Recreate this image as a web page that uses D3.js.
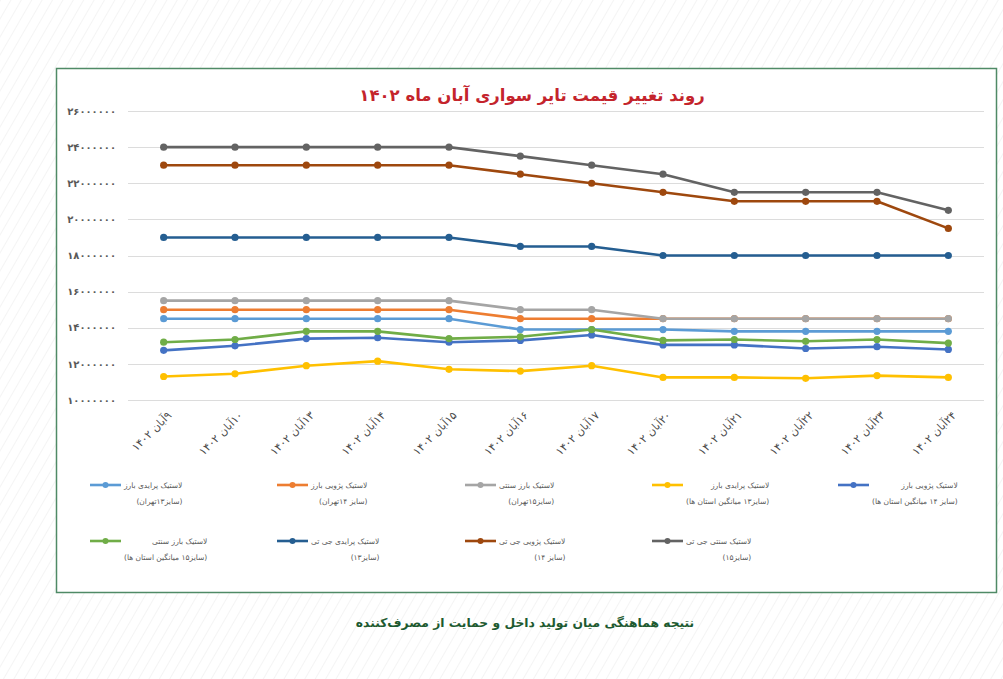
<!DOCTYPE html>
<html>
<head>
<meta charset="utf-8">
<script src="https://cdn.jsdelivr.net/npm/d3@7"></script>
<style>
  html, body { margin: 0; padding: 0; background: #fff; }
  svg { display: block; font-family: "DejaVu Sans", sans-serif; }
</style>
</head>
<body>
<svg id="chart" width="1003" height="679"></svg>
<script>
// ---------- DATA ----------
const titleText = "روند تغییر قیمت تایر سواری آبان ماه ۱۴۰۲";
const captionText = "نتیجه هماهنگی میان تولید داخل و حمایت از مصرف‌کننده";
const categories = ["۹آبان ۱۴۰۲","۱۰آبان ۱۴۰۲","۱۳آبان ۱۴۰۲","۱۴آبان ۱۴۰۲","۱۵آبان ۱۴۰۲","۱۶آبان ۱۴۰۲",
                    "۱۷آبان ۱۴۰۲","۲۰آبان ۱۴۰۲","۲۱آبان ۱۴۰۲","۲۲آبان ۱۴۰۲","۲۳آبان ۱۴۰۲","۲۴آبان ۱۴۰۲"];
const yTicks = [10000000,12000000,14000000,16000000,18000000,20000000,22000000,24000000,26000000];

const seriesNames = [
  ["لاستیک پرایدی بارز", "(سایز۱۳تهران)"],
  ["لاستیک پژویی بارز", "(سایز ۱۴تهران)"],
  ["لاستیک بارز سنتی", "(سایز۱۵تهران)"],
  ["لاستیک پرایدی بارز", "(سایز۱۳ میانگین استان ها)"],
  ["لاستیک پژویی بارز", "(سایز ۱۴ میانگین استان ها)"],
  ["لاستیک بارز سنتی", "(سایز۱۵ میانگین استان ها)"],
  ["لاستیک پرایدی جی تی", "(سایز۱۳)"],
  ["لاستیک پژویی جی تی", "(سایز ۱۴)"],
  ["لاستیک سنتی جی تی", "(سایز۱۵)"]
];
const seriesColors = ["#5b9bd5","#ed7d31","#a5a5a5","#ffc000","#4472c4","#70ad47","#255e91","#9e480e","#636363"];

const prideBarezTehran   = [14500000,14500000,14500000,14500000,14500000,13900000,13900000,13900000,13800000,13800000,13800000,13800000];
const peugeotBarezTehran = [15000000,15000000,15000000,15000000,15000000,14500000,14500000,14500000,14500000,14500000,14500000,14500000];
const sonatiBarezTehran  = [15500000,15500000,15500000,15500000,15500000,15000000,15000000,14500000,14500000,14500000,14500000,14500000];
const prideBarezAvg      = [11300000,11450000,11900000,12150000,11700000,11600000,11900000,11250000,11250000,11200000,11350000,11250000];
const peugeotBarezAvg    = [12750000,13000000,13400000,13450000,13200000,13300000,13600000,13050000,13050000,12850000,12950000,12800000];
const sonatiBarezAvg     = [13200000,13350000,13800000,13800000,13400000,13500000,13900000,13300000,13350000,13250000,13350000,13150000];
const prideGT            = [19000000,19000000,19000000,19000000,19000000,18500000,18500000,18000000,18000000,18000000,18000000,18000000];
const peugeotGT          = [23000000,23000000,23000000,23000000,23000000,22500000,22000000,21500000,21000000,21000000,21000000,19500000];
const sonatiGT           = [24000000,24000000,24000000,24000000,24000000,23500000,23000000,22500000,21500000,21500000,21500000,20500000];

const seriesValues = [prideBarezTehran, peugeotBarezTehran, sonatiBarezTehran, prideBarezAvg,
                      peugeotBarezAvg, sonatiBarezAvg, prideGT, peugeotGT, sonatiGT];

// ---------- HELPERS ----------
const faDigits = "۰۱۲۳۴۵۶۷۸۹";
const toFa = n => String(n).replace(/[0-9]/g, d => faDigits[+d]);
const rtl = s => "\u202B" + s + "\u202C";

// ---------- DRAW ----------
const svg = d3.select("#chart");
const defs = svg.append("defs");
const pat = defs.append("pattern").attr("id","stripes").attr("patternUnits","userSpaceOnUse")
  .attr("width", 9).attr("height", 9).attr("patternTransform","rotate(30)");
pat.append("line").attr("x1",0).attr("y1",0).attr("x2",0).attr("y2",9)
  .attr("stroke","#ececec").attr("stroke-width",1.2);
svg.append("rect").attr("width",1003).attr("height",679).attr("fill","url(#stripes)");

// chart frame
svg.append("rect").attr("x",56.5).attr("y",68.5).attr("width",940).attr("height",524)
  .attr("fill","#fff").attr("stroke","#4f8a66").attr("stroke-width",1.5);

// title
svg.append("text").attr("x",532).attr("y",101).attr("text-anchor","middle")
  .attr("font-size",16.5).attr("font-weight","bold").attr("fill","#c4242c")
  .text(rtl(titleText));

// scales
const x = d3.scalePoint().domain(categories).range([128,984]).padding(0.5);
const y = d3.scaleLinear().domain([10000000,26000000]).range([400,111]);

// gridlines
svg.append("g").selectAll("line").data(yTicks).join("line")
  .attr("x1",128).attr("x2",984)
  .attr("y1",d=>Math.round(y(d))+0.5).attr("y2",d=>Math.round(y(d))+0.5)
  .attr("stroke","#dcdcdc").attr("stroke-width",1);

// y axis
const yAxis = svg.append("g").attr("transform","translate(128,0)")
  .call(d3.axisLeft(y).tickValues(yTicks).tickSize(0).tickPadding(12).tickFormat(d=>toFa(d)));
yAxis.select(".domain").remove();
yAxis.selectAll("text").attr("font-size",10).attr("font-weight","bold").attr("fill","#595959")
  .attr("font-family","DejaVu Sans");

// x axis
const xAxis = svg.append("g").attr("transform","translate(0,400)")
  .call(d3.axisBottom(x).tickSize(0).tickPadding(0));
xAxis.select(".domain").remove();
xAxis.selectAll("text")
  .text(d=>rtl(d))
  .attr("font-size",11).attr("font-weight","normal").attr("fill","#4a4a4a")
  .attr("font-family","DejaVu Sans")
  .attr("text-anchor","end").attr("dy",0).attr("y",0)
  .attr("transform","translate(8,16) rotate(-45)");

// lines
const line = d3.line().x((d,i)=>x(categories[i])).y(d=>y(d));
const gS = svg.append("g");
seriesValues.forEach((vals,si)=>{
  const g = gS.append("g");
  g.append("path").datum(vals).attr("d",line).attr("fill","none")
    .attr("stroke",seriesColors[si]).attr("stroke-width",2.6).attr("stroke-linejoin","round");
  g.selectAll("circle").data(vals).join("circle")
    .attr("cx",(d,i)=>x(categories[i])).attr("cy",d=>y(d)).attr("r",3.6)
    .attr("fill",seriesColors[si]);
});

// legend
const legX = [90,277,465,652,838];
const legY = [485,541];
const leg = svg.append("g");
seriesNames.forEach((nm,i)=>{
  const row = i < 5 ? 0 : 1;
  const col = i < 5 ? i : i-5;
  const x0 = legX[col], y0 = legY[row];
  const g = leg.append("g");
  g.append("line").attr("x1",x0).attr("x2",x0+31).attr("y1",y0).attr("y2",y0)
    .attr("stroke",seriesColors[i]).attr("stroke-width",2.6);
  g.append("circle").attr("cx",x0+15.5).attr("cy",y0).attr("r",3).attr("fill",seriesColors[i]);
  const t1 = g.append("text").attr("y",y0+3).attr("font-size",7.5).attr("fill","#595959").text(rtl(nm[0]));
  const t2 = g.append("text").attr("y",y0+19).attr("font-size",7.5).attr("fill","#595959").text(rtl(nm[1]));
  const w = Math.max(t1.node().getComputedTextLength(), t2.node().getComputedTextLength());
  const xr = x0 + 34 + w;
  t1.attr("x",xr).attr("text-anchor","end");
  t2.attr("x",xr).attr("text-anchor","end");
});

// caption
svg.append("text").attr("x",525).attr("y",627).attr("text-anchor","middle")
  .attr("font-size",12.3).attr("font-weight","bold").attr("fill","#1d5a30")
  .text(rtl(captionText));
</script>
</body>
</html>
